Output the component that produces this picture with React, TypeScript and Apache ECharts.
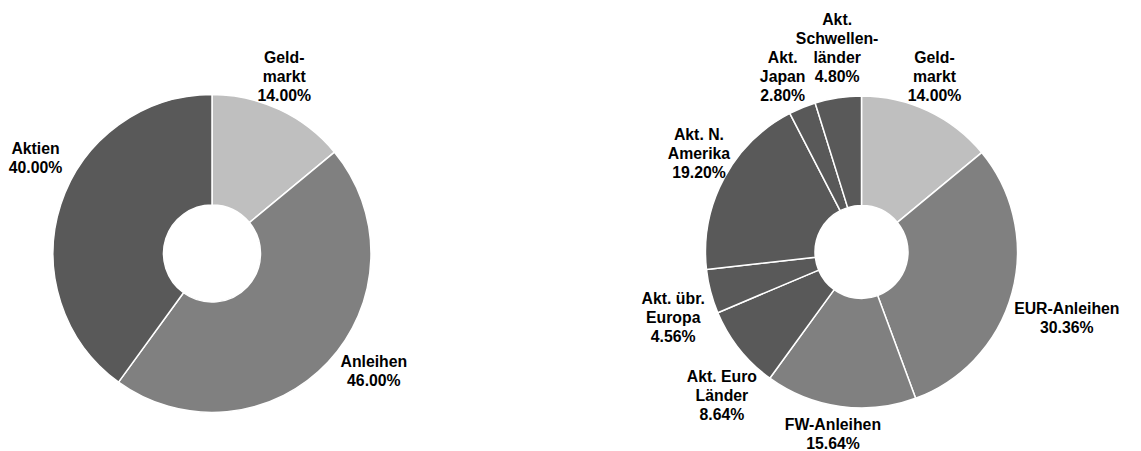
import React, { useEffect, useRef } from "react";
import * as echarts from "echarts";

// ---- data ----
const leftCategories = ["Geld-\nmarkt", "Anleihen", "Aktien"];
const leftValues = [14.0, 46.0, 40.0];

const rightCategories = [
  "Geld-\nmarkt",
  "EUR-Anleihen",
  "FW-Anleihen",
  "Akt. Euro\nLänder",
  "Akt. übr.\nEuropa",
  "Akt. N.\nAmerika",
  "Akt.\nJapan",
  "Akt.\nSchwellen-\nländer",
];
const rightValues = [14.0, 30.36, 15.64, 8.64, 4.56, 19.2, 2.8, 4.8];

// ---- styles ----
const LIGHT = "#bfbfbf";
const MID = "#808080";
const DARK = "#595959";
const leftColors = [LIGHT, MID, DARK];
const rightColors = [LIGHT, MID, MID, DARK, DARK, DARK, DARK, DARK];

// label nudges (px) relative to the outside-end rule
const leftNudges = [
  [-9, -3],
  [18, -8],
  [5, -39],
];
const rightNudges = [
  [-7, -4],
  [-1, 19],
  [0, 4],
  [14, 26],
  [-2, 17],
  [7, -9],
  [-9, 0],
  [6, -7],
];

const LEFT_CENTER = [212, 253.5];
const LEFT_RADIUS = [48.5, 159];
const RIGHT_CENTER = [861.5, 252];
const RIGHT_RADIUS = [46.5, 156];

function makeLayout(values: number[], cx: number, cy: number, r: number, gap: number, nudges: number[][]) {
  const total = values.reduce((a, b) => a + b, 0);
  return (params: any) => {
    const i = params.dataIndex;
    let before = 0;
    for (let k = 0; k < i; k++) before += values[k];
    const mid = ((before + values[i] / 2) / total) * Math.PI * 2;
    const ux = Math.sin(mid);
    const uy = -Math.cos(mid);
    const w = params.labelRect.width;
    const h = params.labelRect.height;
    const x = cx + ux * (r + gap) + (ux * w) / 2 + nudges[i][0];
    const y = cy + uy * (r + gap) + (uy * h) / 2 + nudges[i][1];
    return { x, y, align: "center", verticalAlign: "middle" };
  };
}

function makeSeries(
  names: string[],
  values: number[],
  colors: string[],
  center: number[],
  radius: number[],
  nudges: number[][]
) {
  return {
    type: "pie",
    center,
    radius,
    startAngle: 90,
    clockwise: true,
    silent: true,
    avoidLabelOverlap: false,
    emphasis: { disabled: true },
    itemStyle: { borderColor: "#ffffff", borderWidth: 1.5 },
    label: {
      show: true,
      position: "outside",
      formatter: (p: any) => `${p.name}\n${Number(p.value).toFixed(2)}%`,
      fontFamily: "'Liberation Sans', Arial, sans-serif",
      fontWeight: "bold",
      fontSize: 15.8,
      lineHeight: 19,
      color: "#000000",
      align: "center",
    },
    labelLine: { show: false },
    labelLayout: makeLayout(values, center[0], center[1], radius[1], 5, nudges),
    data: names.map((n, i) => ({
      name: n,
      value: values[i],
      itemStyle: { color: colors[i] },
    })),
  };
}

export default function App() {
  const ref = useRef<HTMLDivElement>(null);
  useEffect(() => {
    document.body.style.margin = "0";
    const chart = echarts.init(ref.current!, null, { renderer: "svg" });
    chart.setOption({
      animation: false,
      backgroundColor: "#ffffff",
      series: [
        makeSeries(leftCategories, leftValues, leftColors, LEFT_CENTER, LEFT_RADIUS, leftNudges),
        makeSeries(rightCategories, rightValues, rightColors, RIGHT_CENTER, RIGHT_RADIUS, rightNudges),
      ],
    });
    return () => chart.dispose();
  }, []);
  return <div ref={ref} style={{ width: 1141, height: 451 }} />;
}
